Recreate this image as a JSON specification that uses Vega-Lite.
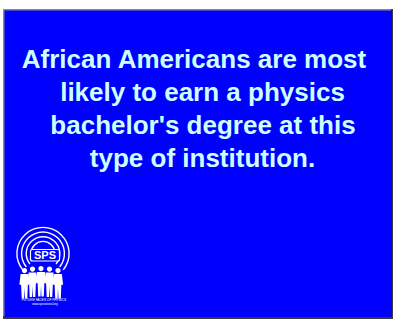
{
  "$schema": "https://vega.github.io/schema/vega-lite/v6.json",
  "width": 393,
  "height": 320,
  "padding": 0,
  "autosize": {"type": "none"},
  "background": "#ffffff",
  "config": {"view": {"stroke": null}},
  "encoding": {
    "x": {"field": "x", "type": "quantitative", "axis": null, "scale": {"domain": [0, 393], "nice": false, "zero": false}},
    "y": {"field": "y", "type": "quantitative", "axis": null, "scale": {"domain": [0, 320], "nice": false, "zero": false, "reverse": true}}
  },
  "layer": [
    {
      "data": {"values": [{"x": 3, "x2": 393, "y": 9, "y2": 319}]},
      "mark": {"type": "rect", "color": "#3a3a3a"},
      "encoding": {"x2": {"field": "x2"}, "y2": {"field": "y2"}}
    },
    {
      "data": {"values": [{"x": 3, "x2": 391, "y": 9, "y2": 316}]},
      "mark": {"type": "rect", "color": "#8a8a8a"},
      "encoding": {"x2": {"field": "x2"}, "y2": {"field": "y2"}}
    },
    {
      "data": {"values": [{"x": 4.5, "x2": 392, "y": 10.5, "y2": 317}]},
      "mark": {"type": "rect", "color": "#0000ff"},
      "encoding": {"x2": {"field": "x2"}, "y2": {"field": "y2"}}
    },
    {
      "data": {"values": [
        {"x": 194, "y": 68, "t": "African Americans are most"},
        {"x": 202.5, "y": 101, "t": "likely to earn a physics"},
        {"x": 203, "y": 134, "t": "bachelor's degree at this"},
        {"x": 202.5, "y": 167, "t": "type of institution."}
      ]},
      "mark": {"type": "text", "align": "center", "baseline": "alphabetic", "font": "Liberation Sans", "fontWeight": "bold", "fontSize": 26, "color": "#ccffff"},
      "encoding": {"text": {"field": "t"}}
    },
    {
      "data": {"values": [
        {"x": 43, "y": 253.5, "ring": 1},
        {"x": 43, "y": 253.5, "ring": 2},
        {"x": 43, "y": 253.5, "ring": 3},
        {"x": 43, "y": 253.5, "ring": 4}
      ]},
      "mark": {"type": "arc", "theta": -2.25, "theta2": 2.25, "radius2Offset": -1.4, "color": "#ffffff", "stroke": null},
      "encoding": {
        "radius": {"field": "ring", "type": "quantitative", "scale": {"type": "linear", "domain": [1, 4], "range": [12.8, 26.8], "zero": false}, "legend": null},
        "radius2": {"field": "ring"}
      }
    },
    {
      "data": {"values": [{"x": 30.5, "x2": 59.5, "y": 249.5, "y2": 261}]},
      "mark": {"type": "rect", "color": "#0000ff", "stroke": "#ffffff", "strokeWidth": 1.2, "cornerRadius": 2},
      "encoding": {"x2": {"field": "x2"}, "y2": {"field": "y2"}}
    },
    {
      "data": {"values": [{"x": 45, "y": 259.3, "t": "SPS"}]},
      "mark": {"type": "text", "align": "center", "baseline": "alphabetic", "font": "Liberation Sans", "fontWeight": "bold", "fontSize": 11, "color": "#ffffff"},
      "encoding": {"text": {"field": "t"}}
    },
    {
      "data": {"values": [
        {"x": 24.5, "y": 283, "h": 1},
        {"x": 32.5, "y": 281.5, "h": 1},
        {"x": 41, "y": 281, "h": 1},
        {"x": 49.5, "y": 281.5, "h": 1},
        {"x": 58, "y": 283, "h": 1}
      ]},
      "mark": {"type": "point", "filled": true, "opacity": 1, "color": "#ffffff", "size": 960,
        "shape": "M-0.17,-0.8A0.17,0.17 0 1,0 0.17,-0.8A0.17,0.17 0 1,0 -0.17,-0.8Z M-0.25,-0.58L0.25,-0.58L0.33,0.12L0.22,0.12L0.18,1L0.03,1L0,0.3L-0.03,1L-0.18,1L-0.22,0.12L-0.33,0.12Z"}
    },
    {
      "data": {"values": [{"x": 44, "y": 301, "t": "FUTURE FACES OF PHYSICS"}]},
      "mark": {"type": "text", "align": "center", "baseline": "alphabetic", "font": "Liberation Sans", "fontStyle": "italic", "fontSize": 3.2, "color": "#ffffff"},
      "encoding": {"text": {"field": "t"}}
    },
    {
      "data": {"values": [{"x": 45, "y": 305, "t": "www.spsnational.org"}]},
      "mark": {"type": "text", "align": "center", "baseline": "alphabetic", "font": "Liberation Sans", "fontSize": 2.8, "color": "#ffffff"},
      "encoding": {"text": {"field": "t"}}
    }
  ]
}
